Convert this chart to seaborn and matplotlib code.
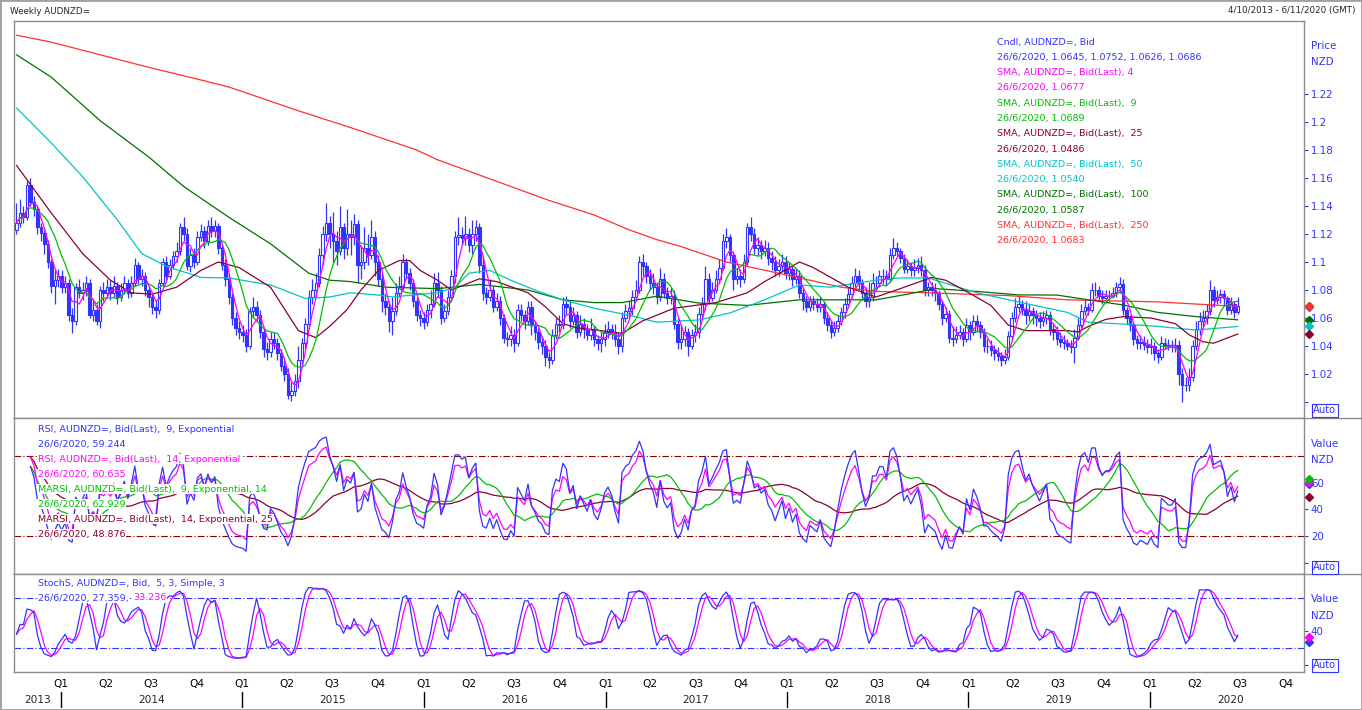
import numpy as np
import pandas as pd
import matplotlib
matplotlib.use('Agg')
import matplotlib.pyplot as plt
import matplotlib.dates as mdates
import matplotlib.transforms as mtransforms
from matplotlib.lines import Line2D
from matplotlib.patches import Rectangle
import seaborn as sns

sns.set_style('white')
plt.rcParams['font.family'] = ['DejaVu Sans']

# weekly AUDNZD= candles, week of 4/10/2013 up to 26/6/2020
first_date = '2013-10-04'
first_open = 1.123
close = [
    1.128, 1.135, 1.132, 1.155, 1.143, 1.138, 1.125, 1.121, 1.113, 1.100, 1.083, 1.087, 1.090,
    1.082, 1.085, 1.062, 1.058, 1.082, 1.078, 1.080, 1.085, 1.062, 1.066, 1.058, 1.080, 1.078,
    1.082, 1.078, 1.083, 1.075, 1.080, 1.085, 1.078, 1.085, 1.098, 1.088, 1.090, 1.080, 1.075,
    1.068, 1.066, 1.085, 1.100, 1.090, 1.098, 1.104, 1.108, 1.125, 1.120, 1.097, 1.105, 1.100,
    1.118, 1.122, 1.115, 1.126, 1.122, 1.126, 1.110, 1.098, 1.088, 1.075, 1.060, 1.053, 1.050,
    1.048, 1.040, 1.065, 1.068, 1.062, 1.050, 1.038, 1.036, 1.045, 1.042, 1.035, 1.026, 1.020,
    1.005, 1.008, 1.015, 1.030, 1.042, 1.056, 1.075, 1.080, 1.085, 1.105, 1.120, 1.128, 1.120,
    1.115, 1.108, 1.125, 1.110, 1.120, 1.118, 1.127, 1.098, 1.100, 1.110, 1.105, 1.118, 1.100,
    1.088, 1.072, 1.068, 1.058, 1.065, 1.078, 1.083, 1.100, 1.092, 1.085, 1.072, 1.062, 1.060,
    1.057, 1.066, 1.070, 1.085, 1.080, 1.060, 1.065, 1.075, 1.090, 1.118, 1.119, 1.117, 1.120,
    1.112, 1.120, 1.125, 1.098, 1.078, 1.075, 1.080, 1.068, 1.072, 1.060, 1.046, 1.045, 1.048,
    1.042, 1.066, 1.062, 1.058, 1.068, 1.055, 1.050, 1.043, 1.040, 1.032, 1.030, 1.048, 1.056,
    1.055, 1.070, 1.068, 1.058, 1.062, 1.050, 1.056, 1.052, 1.048, 1.052, 1.045, 1.042, 1.045,
    1.050, 1.052, 1.050, 1.045, 1.040, 1.060, 1.065, 1.067, 1.075, 1.080, 1.100, 1.097, 1.090,
    1.085, 1.082, 1.075, 1.088, 1.078, 1.074, 1.076, 1.056, 1.043, 1.045, 1.050, 1.040, 1.048,
    1.050, 1.063, 1.070, 1.088, 1.074, 1.080, 1.088, 1.096, 1.115, 1.118, 1.105, 1.088, 1.090,
    1.088, 1.100, 1.125, 1.120, 1.110, 1.112, 1.108, 1.110, 1.103, 1.100, 1.094, 1.097, 1.100,
    1.092, 1.095, 1.088, 1.090, 1.078, 1.072, 1.068, 1.072, 1.070, 1.068, 1.070, 1.060, 1.055,
    1.050, 1.053, 1.058, 1.064, 1.070, 1.077, 1.085, 1.090, 1.085, 1.078, 1.072, 1.075, 1.085,
    1.085, 1.090, 1.090, 1.088, 1.105, 1.110, 1.108, 1.103, 1.095, 1.097, 1.094, 1.096, 1.098,
    1.094, 1.080, 1.082, 1.080, 1.078, 1.070, 1.060, 1.063, 1.046, 1.045, 1.048, 1.050, 1.045,
    1.055, 1.050, 1.058, 1.055, 1.050, 1.040, 1.040, 1.037, 1.035, 1.033, 1.030, 1.032, 1.047,
    1.060, 1.068, 1.070, 1.066, 1.062, 1.065, 1.062, 1.060, 1.058, 1.060, 1.062, 1.052, 1.050,
    1.045, 1.043, 1.042, 1.040, 1.039, 1.046, 1.055, 1.065, 1.068, 1.066, 1.080, 1.080, 1.076,
    1.074, 1.076, 1.076, 1.078, 1.082, 1.084, 1.066, 1.060, 1.055, 1.045, 1.042, 1.043, 1.041,
    1.039, 1.040, 1.035, 1.032, 1.042, 1.041, 1.040, 1.040, 1.041, 1.020, 1.012, 1.012, 1.018,
    1.040, 1.052, 1.058, 1.060, 1.065, 1.080, 1.073, 1.075, 1.077, 1.074, 1.066, 1.070, 1.0645, 1.0686,
]
high = [
    1.142, 1.145, 1.140, 1.158, 1.160, 1.147, 1.140, 1.128, 1.125, 1.116, 1.102, 1.094, 1.095,
    1.094, 1.090, 1.088, 1.067, 1.085, 1.088, 1.086, 1.090, 1.088, 1.072, 1.070, 1.083, 1.086,
    1.088, 1.087, 1.090, 1.086, 1.085, 1.090, 1.088, 1.090, 1.103, 1.100, 1.095, 1.093, 1.083,
    1.078, 1.073, 1.088, 1.103, 1.104, 1.102, 1.108, 1.114, 1.128, 1.132, 1.124, 1.110, 1.110,
    1.122, 1.127, 1.126, 1.130, 1.132, 1.130, 1.128, 1.113, 1.102, 1.092, 1.078, 1.064, 1.058,
    1.055, 1.052, 1.068, 1.075, 1.072, 1.066, 1.053, 1.043, 1.050, 1.050, 1.046, 1.038, 1.030,
    1.024, 1.014, 1.020, 1.040, 1.046, 1.060, 1.080, 1.088, 1.092, 1.110, 1.126, 1.142, 1.133,
    1.136, 1.122, 1.140, 1.128, 1.138, 1.130, 1.134, 1.130, 1.112, 1.125, 1.120, 1.130, 1.122,
    1.105, 1.092, 1.078, 1.072, 1.075, 1.085, 1.090, 1.106, 1.103, 1.096, 1.088, 1.075, 1.066,
    1.064, 1.070, 1.080, 1.092, 1.093, 1.083, 1.070, 1.080, 1.094, 1.122, 1.132, 1.125, 1.133,
    1.124, 1.130, 1.130, 1.128, 1.104, 1.082, 1.088, 1.083, 1.078, 1.076, 1.063, 1.050, 1.054,
    1.052, 1.070, 1.070, 1.066, 1.072, 1.072, 1.058, 1.053, 1.047, 1.044, 1.036, 1.052, 1.060,
    1.062, 1.075, 1.076, 1.072, 1.068, 1.065, 1.062, 1.060, 1.056, 1.060, 1.055, 1.048, 1.050,
    1.056, 1.058, 1.056, 1.056, 1.050, 1.064, 1.070, 1.072, 1.080, 1.087, 1.104, 1.106, 1.100,
    1.095, 1.092, 1.086, 1.096, 1.092, 1.082, 1.082, 1.080, 1.060, 1.055, 1.054, 1.053, 1.052,
    1.056, 1.068, 1.075, 1.097, 1.092, 1.086, 1.094, 1.102, 1.120, 1.124, 1.120, 1.108, 1.096,
    1.095, 1.106, 1.128, 1.132, 1.124, 1.118, 1.116, 1.116, 1.114, 1.108, 1.104, 1.102, 1.106,
    1.104, 1.100, 1.098, 1.096, 1.094, 1.082, 1.076, 1.076, 1.076, 1.074, 1.075, 1.072, 1.064,
    1.058, 1.058, 1.062, 1.068, 1.074, 1.082, 1.090, 1.096, 1.094, 1.088, 1.082, 1.086, 1.092,
    1.090, 1.094, 1.095, 1.094, 1.110, 1.117, 1.114, 1.110, 1.106, 1.102, 1.100, 1.102, 1.103,
    1.104, 1.098, 1.086, 1.086, 1.085, 1.080, 1.073, 1.068, 1.066, 1.054, 1.054, 1.055, 1.053,
    1.060, 1.058, 1.062, 1.062, 1.058, 1.053, 1.045, 1.044, 1.041, 1.039, 1.036, 1.038, 1.051,
    1.064, 1.074, 1.076, 1.073, 1.072, 1.070, 1.068, 1.066, 1.064, 1.065, 1.066, 1.065, 1.056,
    1.054, 1.050, 1.048, 1.045, 1.044, 1.052, 1.060, 1.070, 1.073, 1.071, 1.085, 1.086, 1.083,
    1.080, 1.080, 1.080, 1.082, 1.086, 1.089, 1.088, 1.068, 1.062, 1.057, 1.048, 1.048, 1.047,
    1.045, 1.046, 1.043, 1.038, 1.047, 1.046, 1.045, 1.044, 1.046, 1.044, 1.024, 1.018, 1.024,
    1.044, 1.058, 1.064, 1.066, 1.070, 1.087, 1.083, 1.080, 1.081, 1.080, 1.076, 1.075, 1.072, 1.0752,
]
low = [
    1.120, 1.125, 1.128, 1.130, 1.140, 1.133, 1.120, 1.115, 1.106, 1.096, 1.078, 1.070, 1.082,
    1.078, 1.078, 1.058, 1.049, 1.055, 1.074, 1.073, 1.076, 1.060, 1.058, 1.055, 1.053, 1.072,
    1.075, 1.073, 1.075, 1.070, 1.072, 1.077, 1.074, 1.075, 1.083, 1.084, 1.083, 1.076, 1.068,
    1.063, 1.060, 1.063, 1.082, 1.087, 1.088, 1.095, 1.100, 1.105, 1.115, 1.094, 1.093, 1.096,
    1.098, 1.115, 1.110, 1.112, 1.118, 1.118, 1.106, 1.094, 1.083, 1.070, 1.055, 1.048, 1.045,
    1.043, 1.036, 1.038, 1.060, 1.058, 1.046, 1.032, 1.030, 1.032, 1.038, 1.030, 1.022, 1.015,
    1.002, 1.001, 1.004, 1.010, 1.026, 1.038, 1.052, 1.070, 1.075, 1.082, 1.098, 1.115, 1.110,
    1.100, 1.098, 1.105, 1.102, 1.105, 1.105, 1.112, 1.085, 1.088, 1.095, 1.098, 1.102, 1.090,
    1.083, 1.064, 1.062, 1.050, 1.048, 1.062, 1.075, 1.080, 1.088, 1.080, 1.068, 1.058, 1.054,
    1.052, 1.054, 1.060, 1.068, 1.075, 1.056, 1.057, 1.062, 1.072, 1.085, 1.112, 1.112, 1.112,
    1.107, 1.106, 1.115, 1.092, 1.073, 1.070, 1.072, 1.064, 1.065, 1.055, 1.042, 1.040, 1.040,
    1.036, 1.040, 1.058, 1.052, 1.055, 1.048, 1.044, 1.038, 1.034, 1.026, 1.024, 1.027, 1.045,
    1.050, 1.052, 1.062, 1.053, 1.055, 1.046, 1.047, 1.046, 1.044, 1.044, 1.040, 1.037, 1.036,
    1.040, 1.046, 1.045, 1.040, 1.034, 1.036, 1.057, 1.060, 1.062, 1.072, 1.078, 1.090, 1.085,
    1.080, 1.077, 1.070, 1.072, 1.074, 1.070, 1.070, 1.052, 1.038, 1.038, 1.040, 1.033, 1.038,
    1.043, 1.046, 1.060, 1.066, 1.070, 1.072, 1.078, 1.085, 1.094, 1.110, 1.100, 1.080, 1.084,
    1.082, 1.085, 1.098, 1.115, 1.106, 1.105, 1.102, 1.104, 1.098, 1.094, 1.090, 1.090, 1.093,
    1.088, 1.087, 1.083, 1.084, 1.074, 1.066, 1.064, 1.065, 1.066, 1.064, 1.064, 1.056, 1.051,
    1.046, 1.047, 1.050, 1.055, 1.060, 1.067, 1.074, 1.082, 1.080, 1.073, 1.068, 1.068, 1.072,
    1.080, 1.082, 1.084, 1.083, 1.086, 1.102, 1.104, 1.099, 1.092, 1.092, 1.090, 1.090, 1.092,
    1.090, 1.076, 1.076, 1.076, 1.072, 1.066, 1.055, 1.057, 1.042, 1.040, 1.042, 1.045, 1.040,
    1.043, 1.044, 1.048, 1.050, 1.046, 1.036, 1.035, 1.033, 1.030, 1.029, 1.026, 1.027, 1.030,
    1.045, 1.057, 1.064, 1.062, 1.056, 1.058, 1.056, 1.054, 1.053, 1.054, 1.056, 1.048, 1.044,
    1.041, 1.039, 1.038, 1.037, 1.035, 1.028, 1.044, 1.053, 1.062, 1.062, 1.064, 1.076, 1.072,
    1.070, 1.071, 1.072, 1.074, 1.075, 1.078, 1.062, 1.056, 1.051, 1.041, 1.038, 1.038, 1.037,
    1.035, 1.034, 1.030, 1.028, 1.030, 1.038, 1.037, 1.036, 1.036, 1.012, 1.000, 1.008, 1.008,
    1.015, 1.037, 1.048, 1.054, 1.056, 1.062, 1.068, 1.070, 1.071, 1.069, 1.062, 1.063, 1.060, 1.0626,
]

# the long SMAs: week number -> value
sma25_wk = [0, 10, 19, 27, 33, 39, 46, 53, 58, 64, 73, 81, 86, 90, 95, 99, 104, 110, 113, 116,
            121, 125, 133, 138, 147, 152, 157, 161, 168, 174, 180, 184, 189, 201, 210, 215, 220, 225, 229, 234,
            239, 247, 254, 263, 267, 273, 280, 285, 290, 302, 305, 308, 313, 318, 326, 333, 337, 341, 344, 351]
sma25_val = [1.169, 1.135, 1.106, 1.087, 1.078, 1.077, 1.082, 1.094, 1.100, 1.096,
             1.082, 1.051, 1.046, 1.054, 1.066, 1.080, 1.094, 1.101, 1.101, 1.094,
             1.087, 1.080, 1.088, 1.086, 1.078, 1.068, 1.056, 1.053, 1.051, 1.049,
             1.058, 1.062, 1.067, 1.071, 1.078, 1.086, 1.093, 1.100, 1.096, 1.089,
             1.082, 1.075, 1.081, 1.089, 1.087, 1.079, 1.069, 1.055, 1.051, 1.051,
             1.050, 1.054, 1.059, 1.061, 1.060, 1.056, 1.048, 1.043, 1.042, 1.0486]
sma50_wk = [0, 10, 19, 29, 36, 43, 53, 61, 73, 83, 90, 96, 104, 108, 121, 126, 130, 136, 142, 150,
            157, 166, 176, 184, 196, 205, 215, 225, 234, 247, 254, 262, 276, 288, 302, 308, 318, 328, 339, 351]
sma50_val = [1.210, 1.185, 1.161, 1.130, 1.106, 1.097, 1.089, 1.0886, 1.0836, 1.074,
             1.075, 1.078, 1.0764, 1.075, 1.078, 1.082, 1.092, 1.094, 1.087, 1.079,
             1.073, 1.067, 1.062, 1.057, 1.0586, 1.0636, 1.073, 1.0836, 1.082, 1.087,
             1.0886, 1.0886, 1.078, 1.0714, 1.064, 1.057, 1.0557, 1.054, 1.0514, 1.054]
sma100_wk = [0, 10, 24, 38, 48, 61, 73, 84, 90, 96, 106, 121, 133, 147, 157, 166,
             174, 184, 196, 210, 225, 247, 256, 264, 276, 288, 299, 308, 318, 328, 339, 351]
sma100_val = [1.248, 1.232, 1.201, 1.175, 1.154, 1.132, 1.113, 1.092, 1.087, 1.086, 1.082, 1.081,
              1.084, 1.080, 1.073, 1.071, 1.071, 1.0756, 1.0707, 1.069, 1.073, 1.073, 1.077, 1.081,
              1.079, 1.0765, 1.0764, 1.073, 1.0693, 1.064, 1.061, 1.0587]
sma250_wk = [0, 10, 24, 38, 53, 61, 81, 96, 115, 121, 153, 166, 176, 184, 191, 204, 219, 237,
             247, 262, 285, 302, 328, 351]
sma250_val = [1.262, 1.257, 1.248, 1.239, 1.230, 1.225, 1.208, 1.196, 1.180, 1.173, 1.144, 1.1336,
              1.123, 1.116, 1.111, 1.100, 1.092, 1.082, 1.079, 1.078, 1.076, 1.073, 1.0715, 1.0683]

# last values printed in the legends (26/6/2020)
last_sma = [1.0677, 1.0689, 1.0486, 1.0540, 1.0587, 1.0683]   # 4, 9, 25, 50, 100, 250
last_rsi = [59.244, 60.635, 62.929, 48.876]
last_stoch = [27.359, 33.236]

price_ticks = [1.00, 1.02, 1.04, 1.06, 1.08, 1.10, 1.12, 1.14, 1.16, 1.18, 1.20, 1.22]
quarter_starts = pd.date_range('2014-01-01', '2020-10-01', freq='QS')
year_labels = ['2013', '2014', '2015', '2016', '2017', '2018', '2019', '2020']
year_label_dates = ['2013-11-16', '2014-07-02', '2015-07-02', '2016-07-02', '2017-07-02',
                    '2018-07-02', '2019-07-02', '2020-06-12']
year_breaks = pd.date_range('2014-01-01', '2020-01-01', freq='YS')

BLUE = '#3333ff'
MAG = '#ff00ff'
GREEN = '#00c000'
MAROON = '#8b0030'
CYAN = '#00c4c4'
DKGREEN = '#007000'
RED = '#ff3030'
FRAME = '#8c8c8c'

W, H = 1362, 710
def fx(px):
    return px / W
def fy(py):
    return 1 - py / H

n = len(close)
dates = pd.date_range(first_date, periods=n, freq='7D')
xs = mdates.date2num(dates)

c = pd.Series(close)
h = pd.Series(high)
l = pd.Series(low)
o = pd.Series([first_open] + close[:-1])

sma4 = c.rolling(4, min_periods=1).mean()
sma9 = c.rolling(9, min_periods=1).mean()

def rsi(s, span):
    d = s.diff()
    up = d.clip(lower=0).ewm(span=span, adjust=False, min_periods=4).mean()
    dn = (-d.clip(upper=0)).ewm(span=span, adjust=False, min_periods=4).mean()
    return 100 * up / (up + dn)

rsi9 = rsi(c, 9)
rsi14 = rsi(c, 14)
marsi9 = rsi9.rolling(14, min_periods=1).mean()
marsi14 = rsi14.rolling(25, min_periods=1).mean()

hh = h.rolling(5, min_periods=1).max()
ll = l.rolling(5, min_periods=1).min()
fast_k = 100 * (c - ll) / (hh - ll)
slow_k = fast_k.rolling(3, min_periods=1).mean()
slow_d = slow_k.rolling(3, min_periods=1).mean()

fig = plt.figure(figsize=(W / 100, H / 100), dpi=100)
fig.patch.set_facecolor('white')
left, width = fx(14), fx(1304) - fx(14)
ax_p = fig.add_axes([left, fy(418), width, fy(21) - fy(418)])
ax_r = fig.add_axes([left, fy(574), width, fy(418) - fy(574)], sharex=ax_p)
ax_s = fig.add_axes([left, fy(672), width, fy(574) - fy(672)], sharex=ax_p)

def line(ax, x, y, color, lw=0.9):
    x = np.asarray(x)
    y = np.asarray(y, dtype=float)
    ok = ~np.isnan(y)
    sns.lineplot(x=x[ok], y=y[ok], ax=ax, color=color, linewidth=lw, zorder=4)

# candles
up = (c >= o).values
ax_p.vlines(xs, l.values, h.values, color=BLUE, lw=0.9, zorder=2)
ax_p.bar(xs[up], (c - o).values[up], bottom=o.values[up], width=5,
         color='white', edgecolor=BLUE, lw=0.8, zorder=3)
ax_p.bar(xs[~up], (o - c).values[~up], bottom=c.values[~up], width=5,
         color=BLUE, edgecolor=BLUE, lw=0.8, zorder=3)

line(ax_p, xs[sma250_wk], sma250_val, RED)
line(ax_p, xs[sma100_wk], sma100_val, DKGREEN)
line(ax_p, xs[sma50_wk], sma50_val, CYAN)
line(ax_p, xs[sma25_wk], sma25_val, MAROON)
line(ax_p, xs, sma9, GREEN)
line(ax_p, xs, sma4, MAG)

# RSI panel
ax_r.axhline(80, color='#800000', lw=0.8, ls=(0, (6, 2, 1, 2)))
ax_r.axhline(20, color='#800000', lw=0.8, ls=(0, (6, 2, 1, 2)))
line(ax_r, xs, marsi14, MAROON)
line(ax_r, xs, marsi9, GREEN)
line(ax_r, xs, rsi14, MAG)
line(ax_r, xs, rsi9, BLUE)

# stochastic panel
ax_s.axhline(80, color=BLUE, lw=0.8, ls=(0, (6, 2, 1, 2)))
ax_s.axhline(20, color=BLUE, lw=0.8, ls=(0, (6, 2, 1, 2)))
line(ax_s, xs, slow_d, MAG)
line(ax_s, xs, slow_k, BLUE)

x0 = mdates.date2num(pd.Timestamp('2013-09-29'))
x1 = mdates.date2num(pd.Timestamp('2020-11-06'))
for ax in (ax_p, ax_r, ax_s):
    ax.set_xlim(x0, x1)
    ax.set_xlabel('')
    ax.set_ylabel('')
    for sp in ax.spines.values():
        sp.set_color(FRAME)
        sp.set_linewidth(1)
    ax.yaxis.tick_right()
    ax.tick_params(axis='y', colors=BLUE, labelsize=7.4, length=3, width=0.8, pad=2)

ax_p.set_ylim(0.9886, 1.2721)
ax_p.set_yticks(price_ticks)
ax_p.set_yticklabels([''] + ['%g' % round(t, 2) for t in price_ticks[1:]])
ax_r.set_ylim(-8.5, 108.5)
ax_r.set_yticks([0, 20, 40, 60])
ax_r.set_yticklabels(['', '20', '40', '60'])
ax_s.set_ylim(-8.8, 108.8)
ax_s.set_yticks([0, 40])
ax_s.set_yticklabels(['', '40'])

ax_s.set_xticks(mdates.date2num(quarter_starts))
ax_s.set_xticklabels(['Q%d' % d.quarter for d in quarter_starts])
ax_s.tick_params(axis='x', labelsize=7.6, length=3, width=0.8, pad=2, colors='black')
for ax in (ax_p, ax_r):
    ax.tick_params(axis='x', bottom=False, labelbottom=False)

tr_s = mtransforms.blended_transform_factory(ax_s.transData, ax_s.transAxes)
for lbl, d in zip(year_labels, year_label_dates):
    ax_s.text(mdates.date2num(pd.Timestamp(d)), -0.29, lbl, transform=tr_s,
              ha='center', va='center', fontsize=7.6)
for d in year_breaks:
    xb = mdates.date2num(d)
    ax_s.plot([xb, xb], [-0.2, -0.36], transform=tr_s, color='black', lw=1, clip_on=False)

# end-of-series diamonds on the right edge
def diamond(ax, val, col):
    tr = mtransforms.blended_transform_factory(ax.transAxes, ax.transData)
    ax.plot([1.0035], [val], marker='D', ms=4.5, color=col, transform=tr,
            clip_on=False, zorder=6)

for val, col in zip([last_sma[0], last_sma[1], last_sma[4], last_sma[3], last_sma[2], last_sma[5]],
                    [MAG, GREEN, DKGREEN, CYAN, MAROON, RED]):
    diamond(ax_p, val, col)
for val, col in zip([last_rsi[3], last_rsi[0], last_rsi[1], last_rsi[2]], [MAROON, BLUE, MAG, GREEN]):
    diamond(ax_r, val, col)
diamond(ax_s, last_stoch[0], BLUE)
diamond(ax_s, last_stoch[1], MAG)

# legends
price_legend = [
    ('Cndl, AUDNZD=, Bid', BLUE),
    ('26/6/2020, 1.0645, 1.0752, 1.0626, 1.0686', BLUE),
    ('SMA, AUDNZD=, Bid(Last), 4', MAG),
    ('26/6/2020, %.4f' % last_sma[0], MAG),
    ('SMA, AUDNZD=, Bid(Last),  9', GREEN),
    ('26/6/2020, %.4f' % last_sma[1], GREEN),
    ('SMA, AUDNZD=, Bid(Last),  25', MAROON),
    ('26/6/2020, %.4f' % last_sma[2], MAROON),
    ('SMA, AUDNZD=, Bid(Last),  50', CYAN),
    ('26/6/2020, %.4f' % last_sma[3], CYAN),
    ('SMA, AUDNZD=, Bid(Last),  100', DKGREEN),
    ('26/6/2020, %.4f' % last_sma[4], DKGREEN),
    ('SMA, AUDNZD=, Bid(Last),  250', RED),
    ('26/6/2020, %.4f' % last_sma[5], RED),
]
for k, (txt, col) in enumerate(price_legend):
    fig.text(fx(997), fy(42 + 15.3 * k), txt, color=col, fontsize=6.8, va='center')

rsi_legend = [
    ('RSI, AUDNZD=, Bid(Last),  9, Exponential', BLUE),
    ('26/6/2020, %.3f' % last_rsi[0], BLUE),
    ('RSI, AUDNZD=, Bid(Last),  14, Exponential', MAG),
    ('26/6/2020, %.3f' % last_rsi[1], MAG),
    ('MARSI, AUDNZD=, Bid(Last),  9, Exponential, 14', GREEN),
    ('26/6/2020, %.3f' % last_rsi[2], GREEN),
    ('MARSI, AUDNZD=, Bid(Last),  14, Exponential, 25', MAROON),
    ('26/6/2020, %.3f' % last_rsi[3], MAROON),
]
box = dict(facecolor='white', edgecolor='none', boxstyle='square,pad=0.1')
for k, (txt, col) in enumerate(rsi_legend):
    fig.text(fx(38), fy(429 + 15 * k), txt, color=col, fontsize=6.8, va='center', bbox=box)

fig.text(fx(38), fy(583), 'StochS, AUDNZD=, Bid,  5, 3, Simple, 3', color=BLUE,
         fontsize=6.8, va='center', bbox=box)
t = fig.text(fx(38), fy(598), '26/6/2020, %.3f,' % last_stoch[0], color=BLUE,
             fontsize=6.8, va='center', bbox=box)
ax_s.annotate('%.3f' % last_stoch[1], xy=(1, 0.5), xycoords=t, xytext=(3, 0),
              textcoords='offset points', va='center', ha='left', color=MAG, fontsize=6.8,
              bbox=box, annotation_clip=False, zorder=7)

# right-hand axis captions
for txt, py in [('Price', 46), ('NZD', 62), ('Value', 444), ('NZD', 460), ('Value', 599), ('NZD', 616)]:
    fig.text(fx(1311), fy(py), txt, color=BLUE, fontsize=7.4, va='center')
for py in (410, 567, 665):
    fig.text(fx(1313), fy(py), 'Auto', color=BLUE, fontsize=7.2, va='center',
             bbox=dict(facecolor='white', edgecolor=BLUE, lw=0.8, boxstyle='square,pad=0.15'))

fig.text(fx(10), fy(11), 'Weekly AUDNZD=', fontsize=6.3, va='center')
fig.text(fx(1356), fy(11), '4/10/2013 - 6/11/2020 (GMT)', fontsize=6.3, va='center', ha='right')

for py in (418, 574):
    fig.add_artist(Line2D([fx(1304), 1], [fy(py), fy(py)], color=FRAME, lw=1))
fig.add_artist(Rectangle((0, 0), 1, 1, transform=fig.transFigure, fill=False,
                         edgecolor='#a0a0a0', lw=2))

fig.savefig('out.png', dpi=100)
